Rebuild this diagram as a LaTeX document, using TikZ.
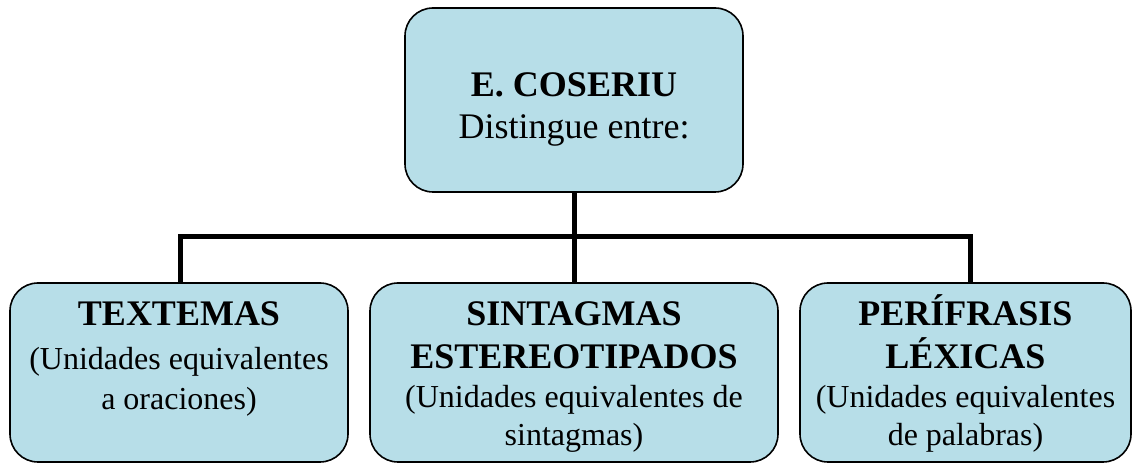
\documentclass[tikz,border=0pt]{standalone}
\usepackage{fontspec}
\setmainfont{Liberation Serif}
\definecolor{cajaazul}{RGB}{183,222,232}
\newcommand{\alto}{\rule{0pt}{26pt}}
\newcommand{\negrita}[1]{{\fontsize{27}{32}\selectfont\bfseries #1}}

\begin{document}
\begin{tikzpicture}[x=0.75pt, y=0.75pt]
        \tikzstyle{caja}=[draw=black, line width=1.2pt, fill=cajaazul, rounded corners=21pt, minimum height=134.25pt]
        \tikzstyle{texto}=[inner sep=0pt, align=center, font=\fontsize{24}{28.75}\selectfont]
        \tikzstyle{enlace}=[line width=3.75pt, black]
        \useasboundingbox (0,0) rectangle (1132,463);
        \node [caja, minimum width=253.5pt, minimum height=138pt] (coseriu) at (574,363) {};
        \node [caja, minimum width=253.5pt] (textemas) at (179,90.5) {};
        \node [caja, minimum width=306pt] (sintagmas) at (574,90.5) {};
        \node [caja, minimum width=248.25pt] (perifrasis) at (965.5,90.5) {};
        \node [texto, below=41pt, font=\fontsize{27}{31.5}\selectfont] (coseriutxt) at (coseriu.north) {\alto\textbf{E. COSERIU}\\Distingue entre:};
        \node [texto, below=6.5pt] (textemastxt) at (textemas.north) {\alto\negrita{TEXTEMAS}\\[3.75pt](Unidades equivalentes\\[1.25pt]a oraciones)};
        \node [texto, below=6.5pt] (sintagmastxt) at (sintagmas.north) {\alto\negrita{SINTAGMAS}\\[3.5pt]\negrita{ESTEREOTIPADOS}\\(Unidades equivalentes de\\sintagmas)};
        \node [texto, below=6.5pt] (perifrasistxt) at (perifrasis.north) {\alto\negrita{PERÍFRASIS}\\[3.5pt]\negrita{LÉXICAS}\\(Unidades equivalentes\\de palabras)};
        \coordinate (cruce) at (574,226);
        \draw [enlace] (coseriu.south) -- (cruce);
        \draw [enlace] (sintagmas.north) -- (cruce);
        \draw [enlace] ([xshift=0.75pt]textemas.north) |- (cruce) -| ([xshift=3.4pt]perifrasis.north);
    \end{tikzpicture}
\end{document}
